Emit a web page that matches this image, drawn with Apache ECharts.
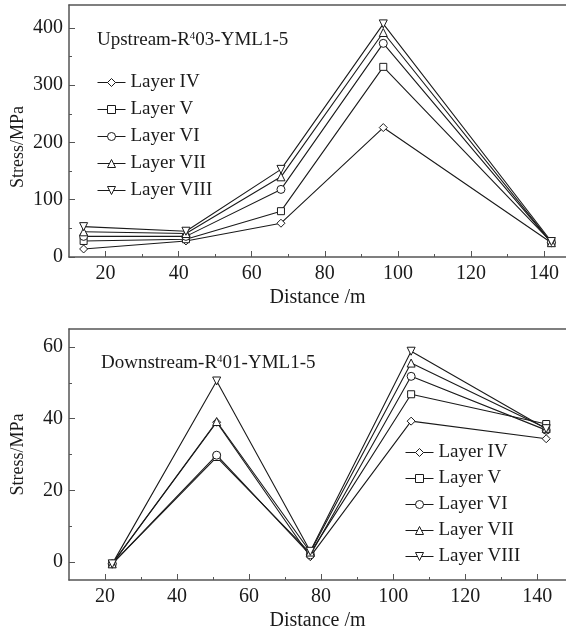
<!DOCTYPE html>
<html>
<head>
<meta charset="utf-8">
<script src="https://cdn.jsdelivr.net/npm/echarts@6/dist/echarts.min.js"></script>
<style>
  html, body { margin: 0; padding: 0; background: #fff; }
  #chart { width: 566px; height: 635px; }
</style>
</head>
<body>
<div id="chart"></div>
<script>
// layer names, shared by both panels
var layers = ['Layer IV', 'Layer V', 'Layer VI', 'Layer VII', 'Layer VIII'];

// upstream panel (R403)
var upX = [14, 42, 68, 96, 142];
var upIV = [14, 28, 59, 226, 25];
var upV = [28, 31, 80, 332, 26];
var upVI = [36, 36, 118, 373, 25];
var upVII = [44, 41, 140, 392, 25];
var upVIII = [53, 45, 153, 407, 27];

// downstream panel (R401)
var downX = [22, 51, 77, 105, 142.5];
var downIV = [-0.5, 39, 1.5, 39.3, 34.4];
var downV = [-0.5, 29.3, 2.5, 46.8, 38.5];
var downVI = [-0.5, 29.8, 2, 51.8, 36.8];
var downVII = [-0.5, 39.2, 2.8, 55.5, 37.3];
var downVIII = [-0.5, 50.5, 3, 58.8, 37.2];

// tick values
var xMajor = [20, 40, 60, 80, 100, 120, 140];
var xMinor = [30, 50, 70, 90, 110, 130];
var upYMajor = [0, 100, 200, 300, 400];
var upYMinor = [50, 150, 250, 350];
var downYMajor = [0, 20, 40, 60];
var downYMinor = [10, 30, 50];

var font = 'Liberation Serif, Times New Roman, serif';
var ink = '#1a1a1a';
var axisInk = '#555';

var symbols = ['diamond', 'rect', 'circle', 'triangle', 'triangle'];
var rotates = [0, 0, 0, 0, 180];

function pairs(xs, ys) {
    var out = [];
    for (var i = 0; i < xs.length; i++) {
        out.push([xs[i], ys[i]]);
    }
    return out;
}

function makeSeries(idx, xs, lists) {
    var out = [];
    for (var i = 0; i < lists.length; i++) {
        out.push({
            name: layers[i],
            type: 'line',
            xAxisIndex: idx * 3,
            yAxisIndex: idx * 2,
            data: pairs(xs, lists[i]),
            symbol: symbols[i],
            symbolRotate: rotates[i],
            symbolSize: i == 1 ? 7 : 8,
            lineStyle: {color: ink, width: 1.1},
            itemStyle: {color: '#fff', borderColor: ink, borderWidth: 1},
            emphasis: {disabled: true},
            animation: false
        });
    }
    return out;
}

function xAxes(grid, max) {
    return [
        {
            type: 'value', gridIndex: grid, min: 10, max: max,
            name: 'Distance /m', nameLocation: 'middle', nameGap: 31,
            nameTextStyle: {fontFamily: font, fontSize: 20, color: ink},
            axisLine: {onZero: false, lineStyle: {color: axisInk, width: 1.5}},
            axisTick: {inside: true, length: 6, customValues: xMajor, lineStyle: {color: axisInk}},
            axisLabel: {customValues: xMajor, margin: 7, fontFamily: font, fontSize: 20, color: ink},
            splitLine: {show: false}
        },
        {
            type: 'value', gridIndex: grid, min: 10, max: max, position: 'bottom',
            axisLine: {show: false, onZero: false},
            axisTick: {inside: true, length: 3, customValues: xMinor, lineStyle: {color: axisInk}},
            axisLabel: {show: false},
            splitLine: {show: false}
        },
        {
            type: 'value', gridIndex: grid, min: 10, max: max, position: 'top',
            axisLine: {onZero: false, lineStyle: {color: axisInk, width: 1.5}},
            axisTick: {show: false},
            axisLabel: {show: false},
            splitLine: {show: false}
        }
    ];
}

function yAxes(grid, min, max, major, minor, pad) {
    return [
        {
            type: 'value', gridIndex: grid, min: min, max: max,
            name: 'Stress/MPa', nameLocation: 'middle', nameGap: 42, nameMoveOverlap: false,
            nameTextStyle: {fontFamily: font, fontSize: 18, color: ink, padding: pad},
            axisLine: {onZero: false, lineStyle: {color: axisInk, width: 1.5}},
            axisTick: {inside: true, length: 6, customValues: major, lineStyle: {color: axisInk}},
            axisLabel: {customValues: major, margin: 6, fontFamily: font, fontSize: 20, color: ink},
            splitLine: {show: false}
        },
        {
            type: 'value', gridIndex: grid, min: min, max: max, position: 'left',
            axisLine: {show: false, onZero: false},
            axisTick: {inside: true, length: 3, customValues: minor, lineStyle: {color: axisInk}},
            axisLabel: {show: false},
            splitLine: {show: false}
        }
    ];
}

var chart = echarts.init(document.getElementById('chart'));

var legendBase = {
    data: layers, orient: 'vertical', padding: 0,
    itemWidth: 28, itemHeight: 10,
    lineStyle: {width: 1, color: ink},
    itemStyle: {borderWidth: 1},
    textStyle: {fontFamily: font, fontSize: 19, color: ink},
    selectedMode: false
};

var supStyle = {fontFamily: font, fontSize: 11, color: ink, verticalAlign: 'top', padding: [0, 0, 8, 0]};

var option = {
    backgroundColor: '#fff',
    animation: false,
    title: [
        {
            text: 'Upstream-R{sup|4}03-YML1-5',
            left: 92, top: 26,
            textStyle: {fontFamily: font, fontSize: 19, fontWeight: 'normal', color: ink, rich: {sup: supStyle}}
        },
        {
            text: 'Downstream-R{sup|4}01-YML1-5',
            left: 96, top: 349,
            textStyle: {fontFamily: font, fontSize: 19, fontWeight: 'normal', color: ink, rich: {sup: supStyle}}
        }
    ],
    legend: [
        Object.assign({}, legendBase, {left: 97, top: 73, itemGap: 8}),
        Object.assign({}, legendBase, {left: 405, top: 443, itemGap: 7})
    ],
    grid: [
        {left: 69, top: 5, right: 0, height: 252, outerBoundsMode: 'none'},
        {left: 69, top: 329, right: 0, height: 251, outerBoundsMode: 'none'}
    ],
    xAxis: xAxes(0, 146).concat(xAxes(1, 148)),
    yAxis: yAxes(0, 0, 440, upYMajor, upYMinor, [0, 32, 0, 0])
        .concat(yAxes(1, -5, 65, downYMajor, downYMinor, [0, 0, 0, 0])),
    series: makeSeries(0, upX, [upIV, upV, upVI, upVII, upVIII])
        .concat(makeSeries(1, downX, [downIV, downV, downVI, downVII, downVIII]))
};

chart.setOption(option);
</script>
</body>
</html>
